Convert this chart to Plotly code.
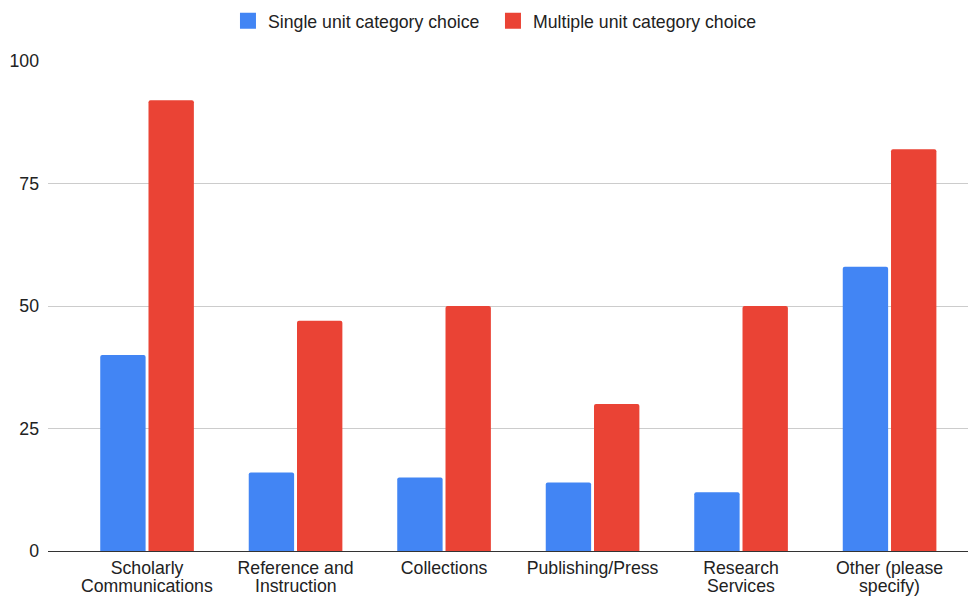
import plotly.graph_objects as go

categories = ["Scholarly<br>Communications", "Reference and<br>Instruction", "Collections",
              "Publishing/Press", "Research<br>Services", "Other (please<br>specify)"]
single_vals = [40, 16, 15, 14, 12, 58]
multiple_vals = [92, 47, 50, 30, 50, 82]
y_ticks = [0, 25, 50, 75, 100]
series_names = ["Single unit category choice", "Multiple unit category choice"]
series_colors = ["#4285F4", "#EA4335"]

font = "Liberation Sans, Arial, sans-serif"
fs = 17.7
txt = "#222222"

xs = list(range(len(categories)))
line1 = [c.split("<br>")[0] for c in categories]
line2 = [c.split("<br>")[1] if "<br>" in c else "" for c in categories]

fig = go.Figure()
for vals, name, col in zip([single_vals, multiple_vals], series_names, series_colors):
    fig.add_trace(go.Bar(x=xs, y=vals, name=name, marker_color=col,
                         marker_line_width=0, marker_cornerradius=2, showlegend=False))
# legend entries with larger square swatches
for name, col in zip(series_names, series_colors):
    fig.add_trace(go.Scatter(x=[None], y=[None], mode="markers", name=name,
                             marker=dict(symbol="square", size=16, color=col)))

annotations = []
for x, t in zip(xs, line2):
    if t:
        annotations.append(dict(x=x, y=0, xref="x", yref="y", text=t, showarrow=False,
                                yanchor="top", yshift=-23,
                                font=dict(family=font, size=fs, color=txt)))

fig.update_layout(
    width=976, height=598,
    margin=dict(l=40, r=8, t=53, b=55, autoexpand=False),
    plot_bgcolor="white", paper_bgcolor="white",
    barmode="group", bargap=0.35, bargroupgap=0.06,
    font=dict(family=font, size=fs, color=txt),
    showlegend=True,
    legend=dict(orientation="h", x=0.4795, xanchor="center", y=0.978, yanchor="middle",
                yref="container", font=dict(size=fs, color=txt),
                traceorder="normal", itemwidth=30, entrywidth=220),
    annotations=annotations,
    xaxis=dict(tickmode="array", tickvals=xs, ticktext=line1,
               range=[-0.667, 5.582], showgrid=False, ticks="", showline=False,
               zeroline=False, automargin=False, ticklabelstandoff=4,
               tickfont=dict(size=fs, color=txt)),
    yaxis=dict(range=[0, 100], tickvals=y_ticks, showgrid=True, gridcolor="#cccccc",
               gridwidth=1, zeroline=True, zerolinecolor="#333333", zerolinewidth=1,
               ticks="", automargin=False, tickfont=dict(size=fs, color=txt),
               ticklabelstandoff=8),
)

fig.write_html("out.html")
